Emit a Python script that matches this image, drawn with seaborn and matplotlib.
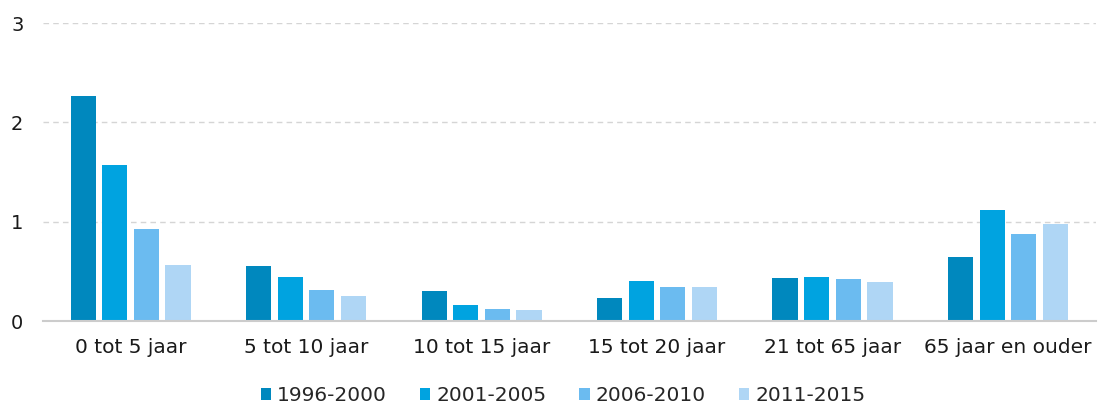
import pandas as pd
import seaborn as sns
import matplotlib.pyplot as plt

# Age groups and periods
categories = ["0 tot 5 jaar", "5 tot 10 jaar", "10 tot 15 jaar",
              "15 tot 20 jaar", "21 tot 65 jaar", "65 jaar en ouder"]
periods = ["1996-2000", "2001-2005", "2006-2010", "2011-2015"]

v_1996_2000 = [2.27, 0.56, 0.30, 0.23, 0.43, 0.65]
v_2001_2005 = [1.57, 0.44, 0.16, 0.40, 0.44, 1.12]
v_2006_2010 = [0.93, 0.31, 0.12, 0.34, 0.42, 0.88]
v_2011_2015 = [0.57, 0.25, 0.11, 0.34, 0.39, 0.98]

colors = ["#0088be", "#00a3e0", "#6bbbf0", "#afd6f5"]


def build_frame():
    series = [v_1996_2000, v_2001_2005, v_2006_2010, v_2011_2015]
    rows = []
    for period, vals in zip(periods, series):
        for cat, v in zip(categories, vals):
            rows.append({"categorie": cat, "periode": period, "waarde": v})
    return pd.DataFrame(rows)


def plot_chart(df):
    sns.set_style("white")
    plt.rcParams["font.family"] = ["DejaVu Sans"]
    fig, ax = plt.subplots(figsize=(10.99, 4.05), dpi=100)
    fig.subplots_adjust(left=0.039, right=0.997, top=0.943, bottom=0.207)

    sns.barplot(data=df, x="categorie", y="waarde", hue="periode",
                palette=colors, width=0.72, gap=0.2, ax=ax,
                edgecolor="none", saturation=1)

    ax.set_ylim(0, 3)
    ax.set_yticks([0, 1, 2, 3])
    ax.set_xlim(-0.5, 5.5)
    ax.set_xlabel("")
    ax.set_ylabel("")
    ax.yaxis.grid(True, linestyle=(0, (4, 3)), color="#d5d5d5", linewidth=1)
    ax.set_axisbelow(True)
    for s in ["top", "right", "left"]:
        ax.spines[s].set_visible(False)
    ax.spines["bottom"].set_color("#cccccc")
    ax.spines["bottom"].set_linewidth(1.5)
    ax.tick_params(axis="both", length=0, labelsize=14.5, colors="#1a1a1a")
    ax.tick_params(axis="y", labelsize=14, pad=14)
    ax.tick_params(axis="x", pad=12)

    ax.legend(loc="center", bbox_to_anchor=(0.494, -0.25), ncol=4,
              frameon=False, fontsize=14.5, handlelength=0.5, handleheight=0.5,
              handletextpad=0.3, columnspacing=1.65)

    plt.savefig("out.png")


if __name__ == "__main__":
    df = build_frame()
    plot_chart(df)
